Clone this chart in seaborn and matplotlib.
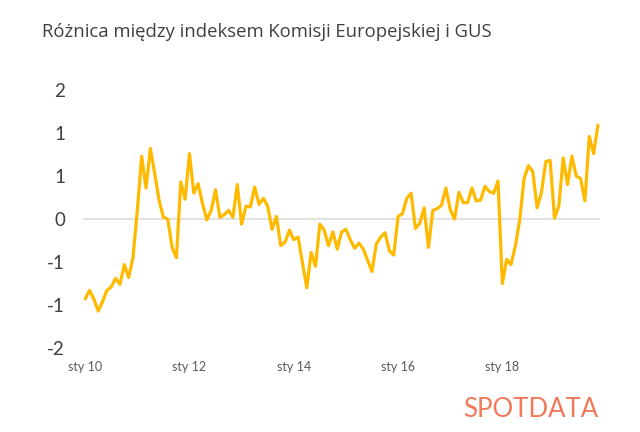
import math
import pandas as pd
import seaborn as sns
import matplotlib.pyplot as plt
from matplotlib.ticker import FuncFormatter

# monthly difference, Jan 2010 - Nov 2019
diff = [
    -0.93, -0.83, -0.93, -1.07, -0.96, -0.83, -0.79, -0.69, -0.76, -0.53, -0.68, -0.45,
    0.10, 0.73, 0.36, 0.82, 0.53, 0.22, 0.02, 0.00, -0.33, -0.45, 0.43, 0.23,
    0.76, 0.30, 0.41, 0.18, -0.01, 0.10, 0.34, 0.02, 0.05, 0.10, 0.02, 0.40,
    -0.06, 0.15, 0.14, 0.37, 0.17, 0.24, 0.15, -0.12, 0.03, -0.31, -0.27, -0.13,
    -0.24, -0.21, -0.51, -0.80, -0.39, -0.55, -0.06, -0.13, -0.31, -0.15, -0.35, -0.15,
    -0.12, -0.24, -0.34, -0.28, -0.35, -0.48, -0.61, -0.29, -0.21, -0.16, -0.37, -0.42,
    0.03, 0.06, 0.24, 0.30, -0.11, -0.05, 0.13, -0.33, 0.10, 0.12, 0.16, 0.36,
    0.11, 0.00, 0.31, 0.19, 0.19, 0.36, 0.21, 0.22, 0.38, 0.32, 0.30, 0.44,
    -0.75, -0.47, -0.53, -0.31, -0.01, 0.47, 0.62, 0.55, 0.13, 0.31, 0.67, 0.68,
    0.01, 0.15, 0.71, 0.40, 0.73, 0.50, 0.47, 0.21, 0.96, 0.76, 1.09,
]
tick_pos = [0, 24, 48, 72, 96]
tick_labels = ["sty 10", "sty 12", "sty 14", "sty 16", "sty 18"]
y_ticks = [-1.5, -1.0, -0.5, 0.0, 0.5, 1.0, 1.5]

df = pd.DataFrame({"m": range(len(diff)), "v": diff})

sns.set_style("white")
plt.rcParams["font.family"] = ["Lato", "DejaVu Sans"]

fig = plt.figure(figsize=(6.4, 4.32), dpi=100)
ax = fig.add_axes([0.1297, 0.1944, 0.808, 0.5973])

ax.axhline(0, color="#d9d9d9", lw=1.1, zorder=1)
sns.lineplot(data=df, x="m", y="v", color="#FFBA00", lw=2.3, ax=ax, zorder=2)

ax.set_xlim(-0.5, len(diff) - 0.5)
ax.set_ylim(-1.5, 1.5)
ax.set_yticks(y_ticks)
# excel-style rounding to whole numbers
ax.yaxis.set_major_formatter(FuncFormatter(
    lambda v, p: "%d" % (math.copysign(math.floor(abs(v) + 0.5), v))))
ax.set_xticks(tick_pos)
ax.set_xticklabels(tick_labels)
ax.tick_params(axis="y", length=0, pad=13, labelsize=13.5, labelcolor="#404040")
ax.tick_params(axis="x", length=0, pad=9, labelsize=9, labelcolor="#595959")
ax.set_xlabel("")
ax.set_ylabel("")
for s in ax.spines.values():
    s.set_visible(False)

fig.text(0.065, 0.915, "Różnica między indeksem Komisji Europejskiej i GUS",
         fontsize=13.3, color="#404040", ha="left", va="baseline",
         family=["Open Sans", "DejaVu Sans"])
fig.text(0.935, 0.035, "SPOTDATA", fontsize=18.5, color="#F0795A",
         ha="right", va="baseline")

fig.savefig("out.png", dpi=100)
